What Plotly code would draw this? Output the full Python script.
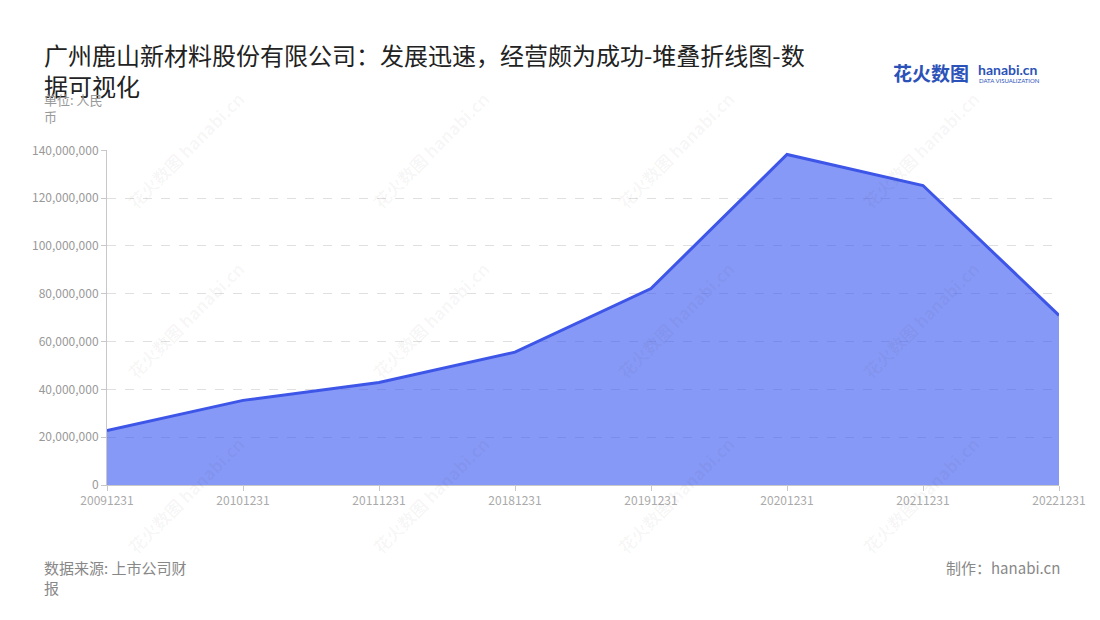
import plotly.graph_objects as go

categories = ["20091231", "20101231", "20111231", "20181231", "20191231", "20201231", "20211231", "20221231"]
values = [22800000, 35400000, 42900000, 55600000, 82200000, 138300000, 125300000, 71000000]
y_ticks = [0, 20000000, 40000000, 60000000, 80000000, 100000000, 120000000, 140000000]
y_tick_labels = ["0", "20,000,000", "40,000,000", "60,000,000", "80,000,000", "100,000,000", "120,000,000", "140,000,000"]

title_text = "广州鹿山新材料股份有限公司：发展迅速，经营颇为成功-堆叠折线图-数<br>据可视化"
unit_text = "单位: 人民<br>币"
source_text = "数据来源: 上市公司财<br>报"
maker_text = "制作：hanabi.cn"

FONT = "Noto Sans CJK SC"
L, R, T, B = 107, 41, 150, 135

fig = go.Figure()
fig.add_trace(go.Scatter(
    x=categories, y=values, mode="lines",
    line=dict(color="#3d56e8", width=3),
    fill="tozeroy", fillcolor="rgba(61,90,241,0.62)",
    hoverinfo="x+y",
))

fig.update_layout(
    width=1100, height=620,
    margin=dict(l=L, r=R, t=T, b=B),
    paper_bgcolor="white", plot_bgcolor="white",
    showlegend=False,
    font=dict(family=FONT, color="#999999", size=12),
    xaxis=dict(
        type="category", range=[0, len(categories) - 1],
        showgrid=False, showline=True, linecolor="#c8c8c8", linewidth=1,
        ticks="outside", ticklen=5, tickcolor="#c8c8c8",
        tickfont=dict(size=12, color="#aaaaaa"), zeroline=False,
    ),
    yaxis=dict(
        range=[0, 140150000], tickvals=y_ticks, ticktext=y_tick_labels,
        showgrid=True, gridcolor="#e0e0e0", griddash="dash", gridwidth=1,
        showline=True, linecolor="#c8c8c8", linewidth=1,
        ticks="outside", ticklen=5, tickcolor="#c8c8c8",
        tickfont=dict(size=12, color="#999999"), zeroline=False,
    ),
)


def add_px(text, x, y, size, color, xanchor="left", yanchor="top", bold=False, align="left", angle=0, family=FONT):
    pw = 1100 - L - R
    ph = 620 - T - B
    fig.add_annotation(
        text=("<b>%s</b>" % text) if bold else text,
        x=(x - L) / pw, y=(620 - B - y) / ph, xref="paper", yref="paper",
        xanchor=xanchor, yanchor=yanchor, showarrow=False, align=align,
        textangle=angle,
        font=dict(family=family, size=size, color=color),
    )

# watermarks
for wx in [185, 430, 675, 920]:
    for wy in [150, 320, 495]:
        add_px("花火数图 hanabi.cn", wx, wy, 17, "rgba(0,0,0,0.045)", xanchor="center", yanchor="middle", angle=-45, bold=True)

add_px(title_text, 42, 35, 24, "#222222", align="left")
add_px(unit_text, 42, 88, 13, "#999999", align="left")
add_px(source_text, 42, 555, 15, "#888888", align="left")
add_px(maker_text, 1062, 555, 15, "#888888", xanchor="right", align="right")

# logo
add_px("花火数图", 891, 72, 19, "#2b52b8", xanchor="left", yanchor="middle", bold=True)
add_px("hanabi.cn", 976, 69, 14, "#2b52b8", xanchor="left", yanchor="middle", bold=True, family="Lato")
add_px("DATA VISUALIZATION", 977, 80, 6, "#2b52b8", xanchor="left", yanchor="middle", family="Lato")

fig.write_html("out.html", config={"displayModeBar": False},
               post_script="document.body.style.margin='0px';")
